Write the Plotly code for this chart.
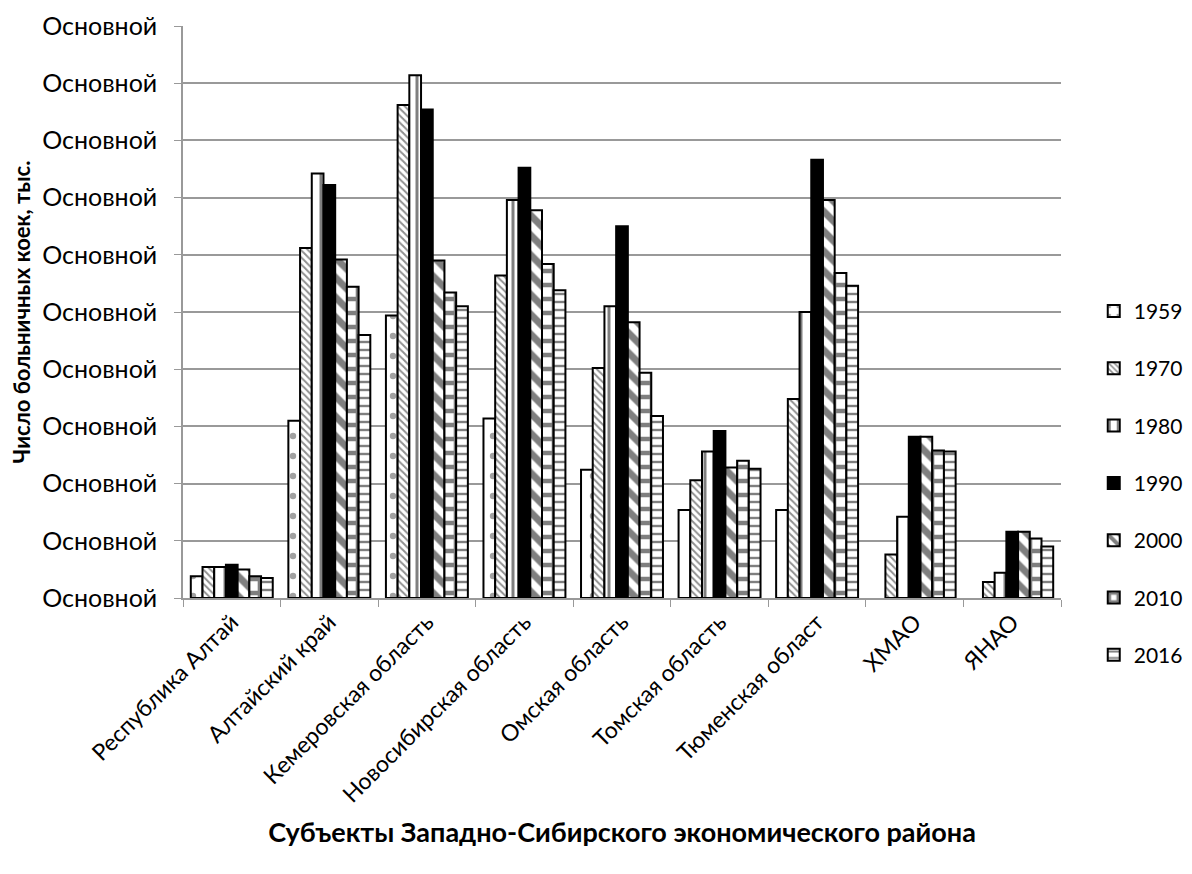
import plotly.graph_objects as go

regions = [
    "Республика Алтай", "Алтайский край", "Кемеровская область",
    "Новосибирская область", "Омская область", "Томская область",
    "Тюменская област", "ХМАО", "ЯНАО",
]

years = ["1959", "1970", "1980", "1990", "2000", "2010", "2016"]

# no 1959 data for the two autonomous okrugs
beds_1959 = [1.9, 15.5, 24.7, 15.7, 11.2, 7.7, 7.7, None, None]
beds_1970 = [2.7, 30.6, 43.1, 28.2, 20.1, 10.3, 17.4, 3.8, 1.4]
beds_1980 = [2.7, 37.1, 45.7, 34.8, 25.5, 12.8, 25.0, 7.1, 2.2]
beds_1990 = [2.9, 36.1, 42.7, 37.6, 32.5, 14.6, 38.3, 14.1, 5.8]
beds_2000 = [2.5, 29.6, 29.5, 33.9, 24.1, 11.4, 34.8, 14.1, 5.8]
beds_2010 = [1.9, 27.2, 26.7, 29.2, 19.7, 12.0, 28.4, 12.9, 5.2]
beds_2016 = [1.75, 23.0, 25.5, 26.9, 15.9, 11.3, 27.3, 12.8, 4.5]

tick_vals = [0, 5, 10, 15, 20, 25, 30, 35, 40, 45, 50]
tick_text = ["Основной"] * len(tick_vals)

series = [beds_1959, beds_1970, beds_1980, beds_1990, beds_2000, beds_2010, beds_2016]

# black-and-white hatch fills, one per year
patterns = [
    dict(shape=".", size=20, solidity=0.08, fgcolor="#444444", bgcolor="white"),
    dict(shape="\\", size=5, solidity=0.4, fgcolor="#222222", bgcolor="white"),
    dict(shape="|", size=12, solidity=0.25, fgcolor="black", bgcolor="white"),
    dict(shape="", fgcolor="black", bgcolor="black"),
    dict(shape="\\", size=14, solidity=0.5, fgcolor="black", bgcolor="white"),
    dict(shape="+", size=14, solidity=0.55, fgcolor="black", bgcolor="white"),
    dict(shape="-", size=8, solidity=0.3, fgcolor="black", bgcolor="white"),
]

fig = go.Figure()

for year, vals, pat in zip(years, series, patterns):
    fig.add_trace(go.Bar(
        x=regions,
        y=vals,
        name=year,
        legendgroup=year,
        marker=dict(
            color="black" if pat["shape"] == "" else "white",
            pattern=pat,
            line=dict(color="black", width=2),
        ),
    ))

fig.update_layout(
    width=1192,
    height=874,
    template="simple_white",
    plot_bgcolor="white",
    paper_bgcolor="white",
    font=dict(family="Lato, Open Sans, sans-serif", size=22, color="black"),
    barmode="group",
    bargap=0.16,
    bargroupgap=0,
    margin=dict(l=175, r=127, t=18, b=284),
    legend=dict(
        x=1.0373,
        xanchor="left",
        y=0.537,
        yanchor="top",
        tracegroupgap=27,
        font=dict(size=21),
        bgcolor="rgba(0,0,0,0)",
    ),
    showlegend=True,
)

fig.update_xaxes(
    title=dict(
        text="<b>Субъекты Западно-Сибирского экономического района</b>",
        font=dict(size=27),
        standoff=16,
    ),
    automargin=False,
    tickangle=-45,
    tickfont=dict(size=23),
    showline=True,
    linecolor="#999999",
    linewidth=1.5,
    ticks="outside",
    tickson="boundaries",
    ticklen=7,
    tickcolor="#999999",
    showgrid=False,
)

fig.update_yaxes(
    title=dict(text="<b>Число больничных коек, тыс.</b>", font=dict(size=22), standoff=14),
    automargin=False,
    range=[0, 50],
    tickvals=tick_vals,
    ticktext=tick_text,
    tickfont=dict(size=25),
    ticklabelstandoff=12,
    showline=True,
    linecolor="#999999",
    linewidth=1.5,
    ticks="outside",
    ticklen=7,
    tickcolor="#999999",
    showgrid=True,
    gridcolor="#999999",
    gridwidth=1.5,
    zeroline=False,
)

fig.write_html("out.html")
